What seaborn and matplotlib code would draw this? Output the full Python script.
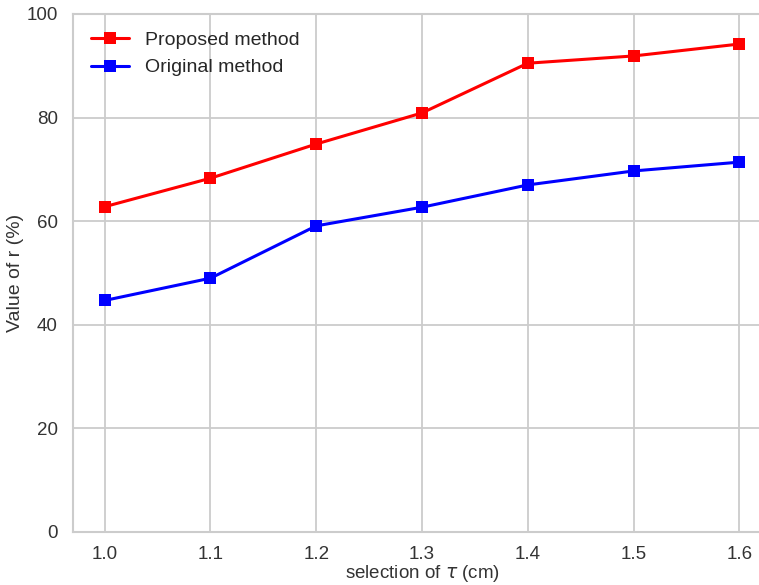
import matplotlib
matplotlib.use("Agg")
import matplotlib.pyplot as plt
import seaborn as sns
import pandas as pd

tau = [1.0, 1.1, 1.2, 1.3, 1.4, 1.5, 1.6]
proposed = [62.8, 68.3, 74.9, 80.9, 90.5, 91.9, 94.2]
original = [44.7, 49.0, 59.1, 62.7, 67.0, 69.7, 71.4]
labels = ["Proposed method", "Original method"]

df = pd.DataFrame({
    "tau": tau * 2,
    "r": proposed + original,
    "method": [labels[0]] * len(tau) + [labels[1]] * len(tau),
})

sns.set_theme(style="whitegrid")
plt.rcParams['font.family'] = ['Liberation Sans', 'DejaVu Sans']

fig = plt.figure(figsize=(7.59, 5.85), dpi=100)
ax = fig.add_axes([73 / 759, 1 - 532 / 585, 698 / 759, 518 / 585])

sns.lineplot(data=df, x="tau", y="r", hue="method", palette=["red", "blue"],
             marker="s", markersize=9, markeredgewidth=0, linewidth=2.2, ax=ax)

ax.set_xlim(0.97, 1.63)
ax.set_ylim(0, 100)
ax.set_xticks(tau)
ax.set_xticklabels([f"{t:.1f}" for t in tau])
ax.set_yticks([0, 20, 40, 60, 80, 100])
ax.tick_params(axis="x", labelsize=13.5, colors="#333333", pad=4)
ax.tick_params(axis="y", labelsize=13.5, colors="#333333", pad=5)
ax.set_xlabel(r"selection of $\tau$ (cm)", fontsize=13.5, color="#333333", labelpad=0)
ax.set_ylabel("Value of r (%)", fontsize=14, color="#333333", labelpad=2)
for s in ax.spines.values():
    s.set_color("#cccccc")
    s.set_linewidth(1.5)
ax.grid(color="#cccccc", linewidth=1.3)

ax.legend(loc="upper left", frameon=False, fontsize=14, handlelength=2.0,
          bbox_to_anchor=(0.0, 1.0))

fig.savefig("out.png", dpi=100)
